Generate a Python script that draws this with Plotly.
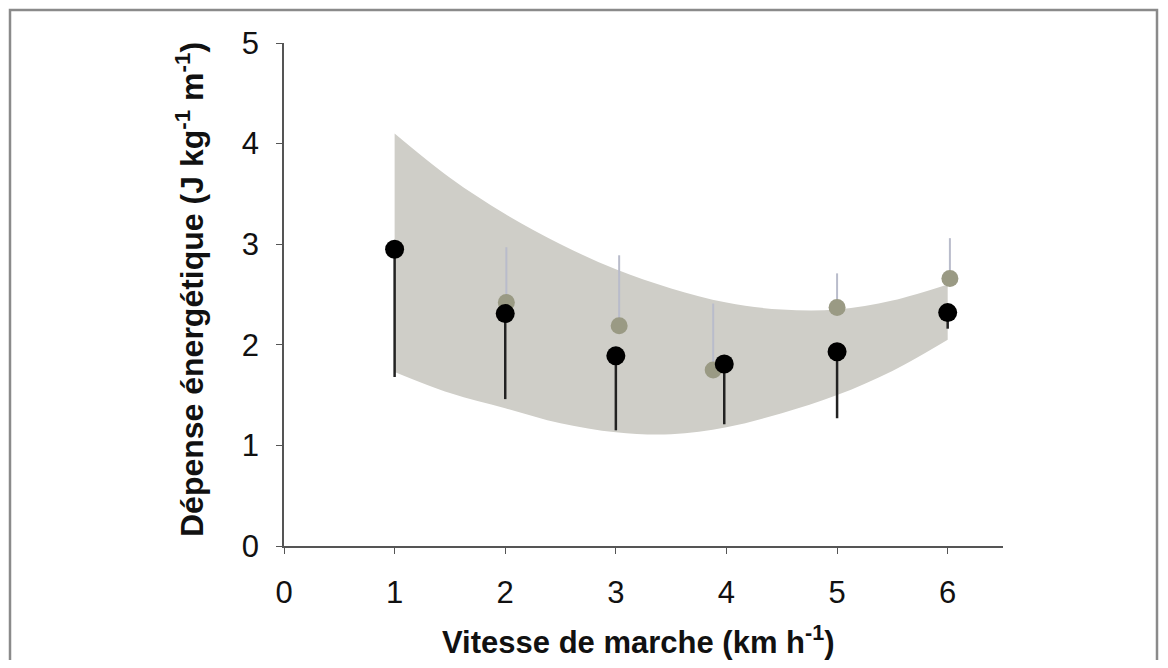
import plotly.graph_objects as go

# Band (shaded envelope)
band_x = [1, 1.5, 2, 2.5, 3, 3.5, 4, 4.5, 5, 5.5, 6]
band_top = [4.10, 3.66, 3.30, 3.00, 2.75, 2.56, 2.42, 2.35, 2.35, 2.44, 2.60]
band_bottom = [1.73, 1.52, 1.37, 1.22, 1.13, 1.11, 1.18, 1.32, 1.50, 1.74, 2.05]

# Gray series (error bars upward)
gray_x = [2.01, 3.03, 3.88, 5.0, 6.02]
gray_y = [2.42, 2.19, 1.75, 2.37, 2.66]
gray_top = [2.97, 2.89, 2.41, 2.71, 3.06]

# Black series (error bars downward)
black_x = [1.0, 2.0, 3.0, 3.98, 5.0, 6.0]
black_y = [2.95, 2.31, 1.89, 1.81, 1.93, 2.32]
black_low = [1.68, 1.46, 1.15, 1.21, 1.27, 2.16]

x_ticks = [0, 1, 2, 3, 4, 5, 6]
y_ticks = [0, 1, 2, 3, 4, 5]

fig = go.Figure()
fig.add_trace(go.Scatter(x=band_x, y=band_bottom, mode="lines",
                         line=dict(width=0, shape="spline", color="#cfcec8"),
                         showlegend=False, hoverinfo="skip"))
fig.add_trace(go.Scatter(x=band_x, y=band_top, mode="lines", fill="tonexty",
                         fillcolor="#cfcec8",
                         line=dict(width=0, shape="spline", color="#cfcec8"),
                         showlegend=False, hoverinfo="skip"))

fig.add_trace(go.Scatter(
    x=gray_x, y=gray_y, mode="markers",
    marker=dict(size=17, color="#9a9a84"),
    error_y=dict(type="data", symmetric=False,
                 array=[t - y for t, y in zip(gray_top, gray_y)],
                 arrayminus=[0] * len(gray_y),
                 color="#b9bccb", thickness=2, width=0),
    showlegend=False))

fig.add_trace(go.Scatter(
    x=black_x, y=black_y, mode="markers",
    marker=dict(size=19, color="#000000"),
    error_y=dict(type="data", symmetric=False,
                 array=[0] * len(black_y),
                 arrayminus=[y - l for y, l in zip(black_y, black_low)],
                 color="#222222", thickness=2.5, width=0),
    showlegend=False))

OFF = 8  # page body margin
W, H = 1168 - 2 * OFF, 668 - 2 * OFF
L, T = 284 - OFF, 43 - OFF
R = W - (1003 - OFF)
B = H - (546 - OFF)
pw, ph = W - L - R, H - T - B

def px(x):
    return (x - OFF - L) / pw

def py(y):
    return (H - B - (y - OFF)) / ph

fig.update_layout(
    width=W, height=H,
    margin=dict(l=L, r=R, t=T, b=B),
    paper_bgcolor="white", plot_bgcolor="white",
    font=dict(family="Liberation Sans, Arial, sans-serif", color="#111111"),
    xaxis=dict(range=[0, 6.5], tickvals=x_ticks, ticktext=[str(v) for v in x_ticks],
               showgrid=False, zeroline=False, showline=True, linecolor="#555555",
               linewidth=1.5, ticks="outside", ticklen=6, tickcolor="#555555",
               tickfont=dict(size=31, color="#111111"), ticklabelstandoff=12),
    yaxis=dict(range=[0, 5], tickvals=y_ticks, ticktext=[str(v) for v in y_ticks],
               showgrid=False, zeroline=False, showline=True, linecolor="#555555",
               linewidth=1.5, ticks="outside", ticklen=6, tickcolor="#555555",
               tickfont=dict(size=31, color="#111111"), ticklabelstandoff=11),
    annotations=[
        dict(text="<b>Vitesse de marche (km h<sup>-1</sup>)</b>", xref="paper", yref="paper",
             x=px(638), y=py(640), xanchor="center", yanchor="middle", showarrow=False,
             font=dict(size=31, color="#111111")),
        dict(text="<b>Dépense énergétique (J kg<sup>-1</sup> m<sup>-1</sup>)</b>", xref="paper",
             yref="paper", x=px(190), y=py(290), xanchor="center", yanchor="middle",
             showarrow=False, textangle=-90, font=dict(size=32, color="#111111")),
    ],
    shapes=[dict(type="rect", xref="paper", yref="paper",
                 x0=px(10), x1=px(1157), y0=py(720), y1=py(10),
                 line=dict(color="#8a8a8a", width=2.5), fillcolor="rgba(0,0,0,0)",
                 layer="below")],
)

fig.write_html("out.html")
